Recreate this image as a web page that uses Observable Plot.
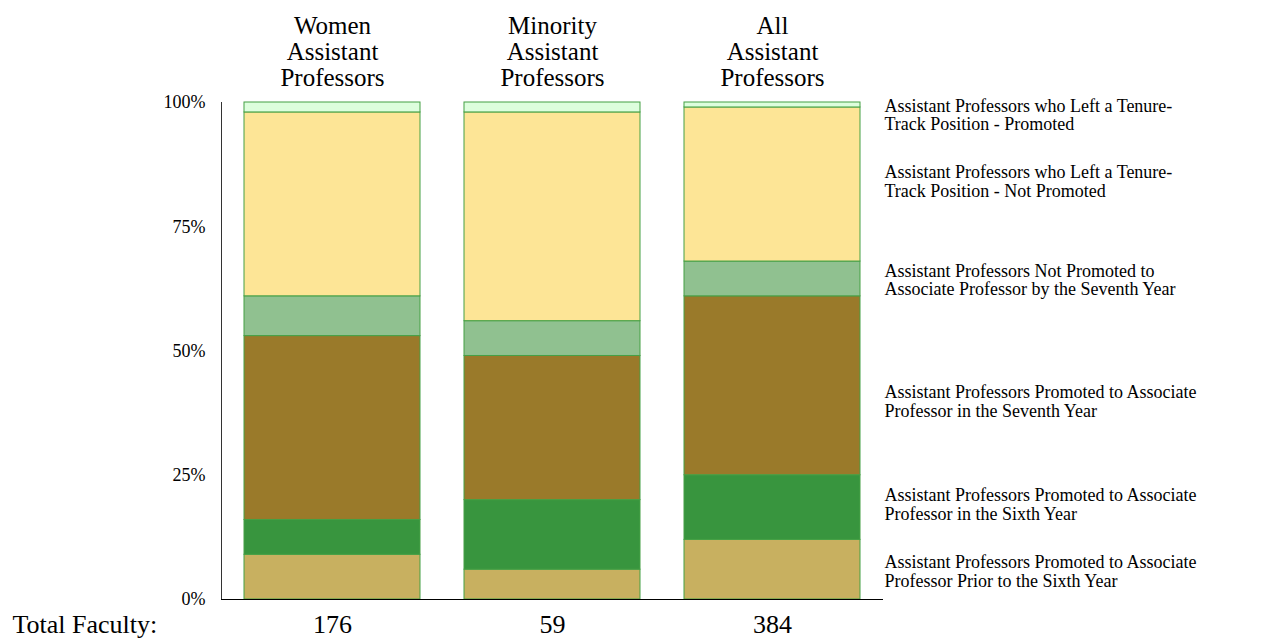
<!DOCTYPE html>
<html>
<head>
<meta charset="utf-8">
<script src="https://cdn.jsdelivr.net/npm/d3@7"></script>
<script src="https://cdn.jsdelivr.net/npm/@observablehq/plot@0.6"></script>
<style>
  html, body { margin: 0; padding: 0; background: #fff; }
  #chart svg { display: block; }
</style>
</head>
<body>
<div id="chart"></div>
<script>
// ---- Data ----
const categories = ["Women", "Minority", "All"];
const categoryLabels = ["Women\nAssistant\nProfessors", "Minority\nAssistant\nProfessors", "All\nAssistant\nProfessors"];
const totals = [176, 59, 384];

// series listed bottom to top
const series = [
  "Prior to Sixth Year",
  "Sixth Year",
  "Seventh Year",
  "Not Promoted by Seventh Year",
  "Left - Not Promoted",
  "Left - Promoted"
];
const seriesLabels = [
  "Assistant Professors Promoted to Associate\nProfessor Prior to the Sixth Year",
  "Assistant Professors Promoted to Associate\nProfessor in the Sixth Year",
  "Assistant Professors Promoted to Associate\nProfessor in the Seventh Year",
  "Assistant Professors Not Promoted to\nAssociate Professor by the Seventh Year",
  "Assistant Professors who Left a Tenure-\nTrack Position - Not Promoted",
  "Assistant Professors who Left a Tenure-\nTrack Position - Promoted"
];
const womenValues    = [9, 7, 37, 8, 37, 2];
const minorityValues = [6, 14, 29, 7, 42, 2];
const allValues      = [12, 13, 36, 7, 31, 1];
const yTicks = [0, 25, 50, 75, 100];
const yTickLabels = ["0%", "25%", "50%", "75%", "100%"];

// ---- Styles ----
const colors = ["#c8b060", "#38953e", "#9a7a2a", "#90c190", "#fde596", "#ddfedd"];
const labelNudge = [2, -3, 16, 1, -3, 10]; // px offsets for right-side labels

// ---- Build table ----
const valuesByCat = [womenValues, minorityValues, allValues];
const rows = [];
categories.forEach((c, ci) => {
  series.forEach((s, si) => rows.push({category: c, series: s, value: valuesByCat[ci][si]}));
});

// midpoints of the "All" bar segments for the side labels
let acc = 0;
const labelRows = series.map((s, i) => {
  const mid = acc + allValues[i] / 2;
  acc += allValues[i];
  return {label: seriesLabels[i], y: mid, i};
});

const font = "'Liberation Serif', 'Times New Roman', serif";

const chart = Plot.plot({
  width: 1268,
  height: 640,
  marginLeft: 221,
  marginRight: 386,
  marginTop: 102,
  marginBottom: 41,
  style: {fontFamily: font, fontSize: "17px", color: "#000", background: "#fff", overflow: "visible"},
  x: {domain: categories, paddingInner: 0.2, paddingOuter: 0.1, axis: null},
  y: {domain: [0, 100], axis: null},
  color: {domain: series, range: colors},
  marks: [
    Plot.barY(rows, {
      x: "category", y: "value", fill: "series",
      stroke: "#45a045", strokeWidth: 1, inset: 0
    }),
    Plot.axisY({
      ticks: yTicks,
      tickFormat: (d) => yTickLabels[yTicks.indexOf(d)],
      tickSize: 0, tickPadding: 16, fontSize: 18, label: null
    }),
    Plot.frame({anchor: "left", stroke: "#333"}),
    Plot.frame({anchor: "bottom", stroke: "#000"}),
    // category labels above bars
    Plot.text(categories, {
      x: (d) => d, text: (d, i) => categoryLabels[i],
      frameAnchor: "top", lineAnchor: "middle", dy: -51,
      fontSize: 25, lineHeight: 1.04
    }),
    // totals below bars
    Plot.text(categories, {
      x: (d) => d, text: (d, i) => String(totals[i]),
      frameAnchor: "bottom", lineAnchor: "middle", dy: 25, fontSize: 26
    }),
    Plot.text(["Total Faculty:"], {
      frameAnchor: "bottom-left", textAnchor: "start", lineAnchor: "middle",
      dx: -209, dy: 25, fontSize: 26
    }),
    // side labels
    ...labelRows.map((r) => Plot.text([r], {
      y: "y", text: "label", frameAnchor: "right", textAnchor: "start",
      lineAnchor: "middle", dx: 2, dy: labelNudge[r.i], fontSize: 18, lineHeight: 1.02
    }))
  ]
});

document.getElementById("chart").appendChild(chart);
</script>
</body>
</html>
